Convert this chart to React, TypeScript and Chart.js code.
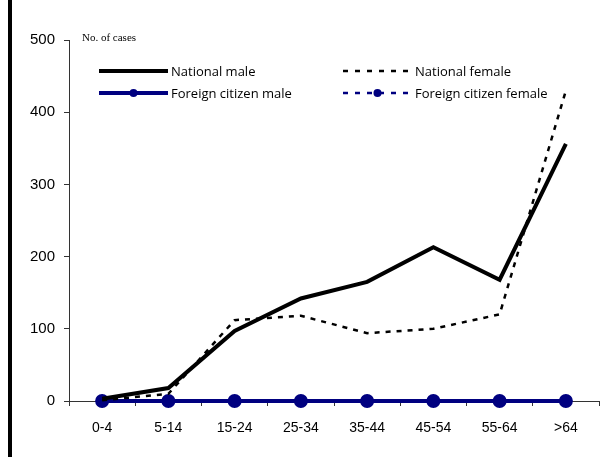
import React, { useEffect, useRef } from "react";
import { Chart, registerables } from "chart.js";

Chart.register(...registerables);

const categories = ["0-4", "5-14", "15-24", "25-34", "35-44", "45-54", "55-64", ">64"];
const nationalMale = [3, 18, 97, 142, 165, 213, 168, 356];
const nationalFemale = [1, 10, 112, 118, 94, 100, 120, 430];
const foreignMale = [0, 0, 0, 0, 0, 0, 0, 0];
const foreignFemale = [0, 0, 0, 0, 0, 0, 0, 0];
const yTicks = [0, 100, 200, 300, 400, 500];
const yAxisTitle = "No. of cases";

const NAVY = "#000080";

const legendItems = [
  { text: "National male", color: "#000", width: 4, dash: [] as number[], marker: false, col: 0, row: 0 },
  { text: "National female", color: "#000", width: 2.5, dash: [5, 7], marker: false, col: 1, row: 0 },
  { text: "Foreign citizen male", color: NAVY, width: 4, dash: [] as number[], marker: true, col: 0, row: 1 },
  { text: "Foreign citizen female", color: NAVY, width: 2.5, dash: [5, 7], marker: true, col: 1, row: 1 },
];

const legendPlugin = {
  id: "customLegend",
  afterDraw(chart: any) {
    const ctx = chart.ctx;
    const area = chart.chartArea;
    ctx.save();
    // y axis title
    ctx.font = "11px 'Liberation Serif', 'Times New Roman', serif";
    ctx.fillStyle = "#000";
    ctx.textAlign = "left";
    ctx.textBaseline = "middle";
    ctx.fillText(yAxisTitle, area.left + 13, area.top - 2);
    // legend
    const colX = [area.left + 30, area.left + 274];
    const rowY = [area.top + 31, area.top + 53];
    legendItems.forEach((it) => {
      const x0 = colX[it.col];
      const y = rowY[it.row];
      const len = 69;
      ctx.beginPath();
      ctx.setLineDash(it.dash);
      ctx.strokeStyle = it.color;
      ctx.lineWidth = it.width;
      ctx.moveTo(x0, y);
      ctx.lineTo(x0 + len, y);
      ctx.stroke();
      ctx.setLineDash([]);
      if (it.marker) {
        ctx.beginPath();
        ctx.fillStyle = it.color;
        ctx.arc(x0 + len / 2, y, 4, 0, Math.PI * 2);
        ctx.fill();
      }
      ctx.fillStyle = "#000";
      ctx.font = "13px 'Open Sans', 'DejaVu Sans', sans-serif";
      ctx.textAlign = "left";
      ctx.textBaseline = "middle";
      ctx.fillText(it.text, x0 + len + 3, y + 1);
    });
    ctx.restore();
  },
};

export default function App() {
  const ref = useRef<HTMLCanvasElement | null>(null);
  useEffect(() => {
    if (!ref.current) return;
    const chart = new Chart(ref.current, {
      type: "line",
      data: {
        labels: categories,
        datasets: [
          {
            label: "National female",
            data: nationalFemale,
            borderColor: "#000",
            borderWidth: 2.5,
            borderDash: [5, 6],
            pointRadius: 0,
            tension: 0,
            clip: false as any,
          },
          {
            label: "National male",
            data: nationalMale,
            borderColor: "#000",
            borderWidth: 4,
            pointRadius: 0,
            tension: 0,
            clip: false as any,
          },
          {
            label: "Foreign citizen female",
            data: foreignFemale,
            borderColor: NAVY,
            backgroundColor: NAVY,
            borderWidth: 2.5,
            borderDash: [5, 6],
            pointRadius: 5,
            pointBackgroundColor: NAVY,
            pointBorderColor: NAVY,
            tension: 0,
            clip: false as any,
          },
          {
            label: "Foreign citizen male",
            data: foreignMale,
            borderColor: NAVY,
            backgroundColor: NAVY,
            borderWidth: 4,
            pointRadius: 5,
            pointBackgroundColor: NAVY,
            pointBorderColor: NAVY,
            tension: 0,
            clip: false as any,
          },
        ],
      },
      options: {
        animation: false,
        responsive: false,
        maintainAspectRatio: false,
        layout: { padding: { left: 0, right: 12, top: 40, bottom: 0 } },
        plugins: { legend: { display: false }, tooltip: { enabled: false }, title: { display: false } },
        scales: {
          x: {
            type: "category",
            offset: true,
            grid: { display: true, drawOnChartArea: false, offset: true, tickLength: 5, color: "#333", tickColor: "#333" },
            border: { display: true, color: "#333", width: 1 },
            ticks: { color: "#000", font: { family: "'Liberation Sans', Arial, sans-serif", size: 14 }, padding: 14, maxRotation: 0, autoSkip: false },
            afterFit: (s: any) => { s.height = 61; },
          },
          y: {
            min: 0,
            max: 500,
            afterBuildTicks: (s: any) => { s.ticks = yTicks.map((v) => ({ value: v })); },
            grid: { display: true, drawOnChartArea: false, tickLength: 5, color: "#333", tickColor: "#333" },
            border: { display: true, color: "#333", width: 1 },
            ticks: { color: "#000", font: { family: "'Liberation Sans', Arial, sans-serif", size: 15 }, padding: 9 },
            afterFit: (s: any) => { s.width = 69; },
          },
        },
      },
      plugins: [legendPlugin],
    });
    return () => chart.destroy();
  }, []);
  return (
    <div style={{ position: "fixed", left: 0, top: 0, width: 611, height: 462, background: "#fff" }}>
      <canvas ref={ref} width={611} height={462} style={{ position: "absolute", left: 0, top: 0, width: 611, height: 462 }} />
      <div style={{ position: "absolute", left: 8, top: 0, width: 4, height: 457, background: "#000" }} />
    </div>
  );
}
